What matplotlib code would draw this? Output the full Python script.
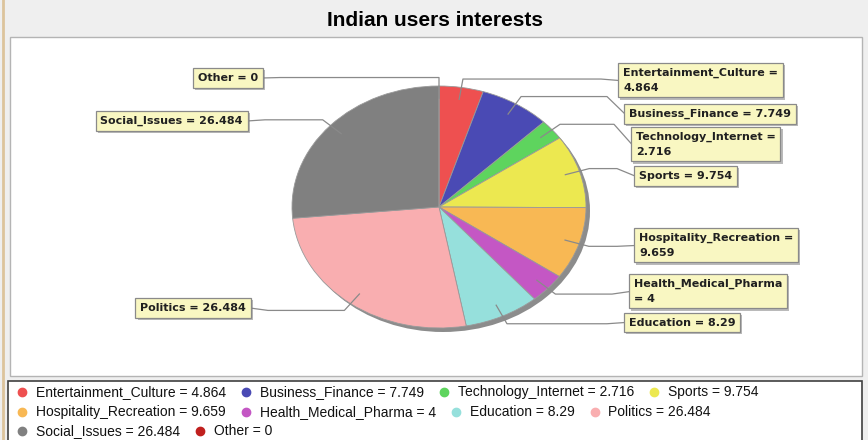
import numpy as np
import matplotlib
matplotlib.use("Agg")
import matplotlib.pyplot as plt
import matplotlib.patheffects as pe
from matplotlib.patches import Rectangle, Ellipse

categories = ["Entertainment_Culture", "Business_Finance", "Technology_Internet", "Sports",
              "Hospitality_Recreation", "Health_Medical_Pharma", "Education", "Politics",
              "Social_Issues", "Other"]
values = [4.864, 7.749, 2.716, 9.754, 9.659, 4, 8.29, 26.484, 26.484, 0]
colors = ["#ee5050", "#4a4ab4", "#5ed45e", "#ece850", "#f8b854", "#c457c4",
          "#96e0dc", "#f9aeb0", "#808080", "#c0201e"]

# label box layout (side, box edge x px, centre y px) and where the text wraps
label_pos = [("r", 619, 80.5), ("r", 625, 114), ("r", 632, 144.5), ("r", 635, 176),
             ("r", 635, 245.5), ("r", 630, 291.5), ("r", 625, 322.5), ("l", 250, 308),
             ("l", 247, 121), ("l", 262, 78)]
label_wrap = ["after", None, "after", None, "after", "before", None, None, None, None]
legend_rows = [[0, 1, 2, 3], [4, 5, 6, 7], [8, 9]]
legend_y = [392, 412, 431]

W, H = 868, 440
CX, CY, RX, RY = 439, 207, 147, 121
FONT = ["Liberation Sans", "DejaVu Sans"]


def d(px, py):
    # pixel (top-left origin) -> data coords where the pie is a unit circle
    return (px - CX) / RX, (CY - py) / RY


def rect(l, t, r, b, **kw):
    return Rectangle(d(l, b), (r - l) / RX, (b - t) / RY, **kw)


fig = plt.figure(figsize=(W / 100, H / 100), dpi=100, facecolor="#efefef")
ax = fig.add_axes([0, 0, 1, 1])

wedges, _ = ax.pie(values, colors=colors, startangle=90, counterclock=False,
                   radius=1, center=(0, 0),
                   wedgeprops=dict(linewidth=0.6, edgecolor="#9a9a9a", zorder=2))
ax.set_aspect("auto")
ax.set_xlim(d(0, 0)[0], d(W, 0)[0])
ax.set_ylim(d(0, H)[1], d(0, 0)[1])
ax.axis("off")

# background panels
ax.add_patch(rect(10, 37, 862, 376, fc="white", ec="#b4b4b4", lw=1, zorder=0.5))
ax.add_patch(rect(8, 381, 862, 446, fc="white", ec="#404040", lw=1.2, zorder=0.5))
ax.plot(*zip(d(3, 0), d(3, H)), color="#dcc49c", lw=2, zorder=0.6)

# pie shadow
ax.add_patch(Ellipse(d(CX + 4, CY + 4), 2, 2, fc="#8c8c8c", ec="none", zorder=1))

ax.text(*d(435, 20), "Indian users interests", ha="center", va="center",
        fontsize=15, fontweight="bold", family=FONT)

total = sum(values)
cum = 0
for i, (name, v) in enumerate(zip(categories, values)):
    th = np.deg2rad(90 - 360 * (cum + v / 2) / total)
    cum += v
    side, bx, by = label_pos[i]
    p_in = (0.9 * np.cos(th), 0.9 * np.sin(th))
    p_el = (1.07 * np.cos(th), 1.07 * np.sin(th))
    sgn = -1 if side == "r" else 1
    p_h = (d(bx + sgn * 18, 0)[0], p_el[1])
    p_box = d(bx, by)
    xs, ys = zip(p_in, p_el, p_h, p_box)
    ax.plot(xs, ys, color="#8a8a8a", lw=0.9, zorder=3)

    if label_wrap[i] == "after":
        txt = f"{name} =\n{v:g}"
    elif label_wrap[i] == "before":
        txt = f"{name}\n= {v:g}"
    else:
        txt = f"{name} = {v:g}"
    tx = bx + 4 if side == "r" else bx - 4
    t = ax.text(*d(tx, by), txt, ha="left" if side == "r" else "right", va="center",
                multialignment="left", fontsize=8, fontweight="bold",
                family=["DejaVu Sans"], color="#202020", zorder=4, linespacing=1.55,
                bbox=dict(boxstyle="square,pad=0.42", fc="#f9f7c2", ec="#8a8a8a", lw=0.9))
    t.get_bbox_patch().set_path_effects([
        pe.SimplePatchShadow(offset=(1.5, -1.5), shadow_rgbFace="#777777", alpha=0.5),
        pe.Normal()])

# legend, flowed left to right
renderer = fig.canvas.get_renderer()
for row, y in zip(legend_rows, legend_y):
    x = 22
    for i in row:
        ax.plot(*d(x, y), "o", ms=6, color=colors[i], mec=colors[i], zorder=4)
        t = ax.text(*d(x + 14, y), f"{categories[i]} = {values[i]:g}", ha="left",
                    va="center", fontsize=10, family=FONT, color="#111111", zorder=4)
        x += 14 + t.get_window_extent(renderer).width + 20

fig.savefig("out.png", dpi=100, facecolor=fig.get_facecolor())
